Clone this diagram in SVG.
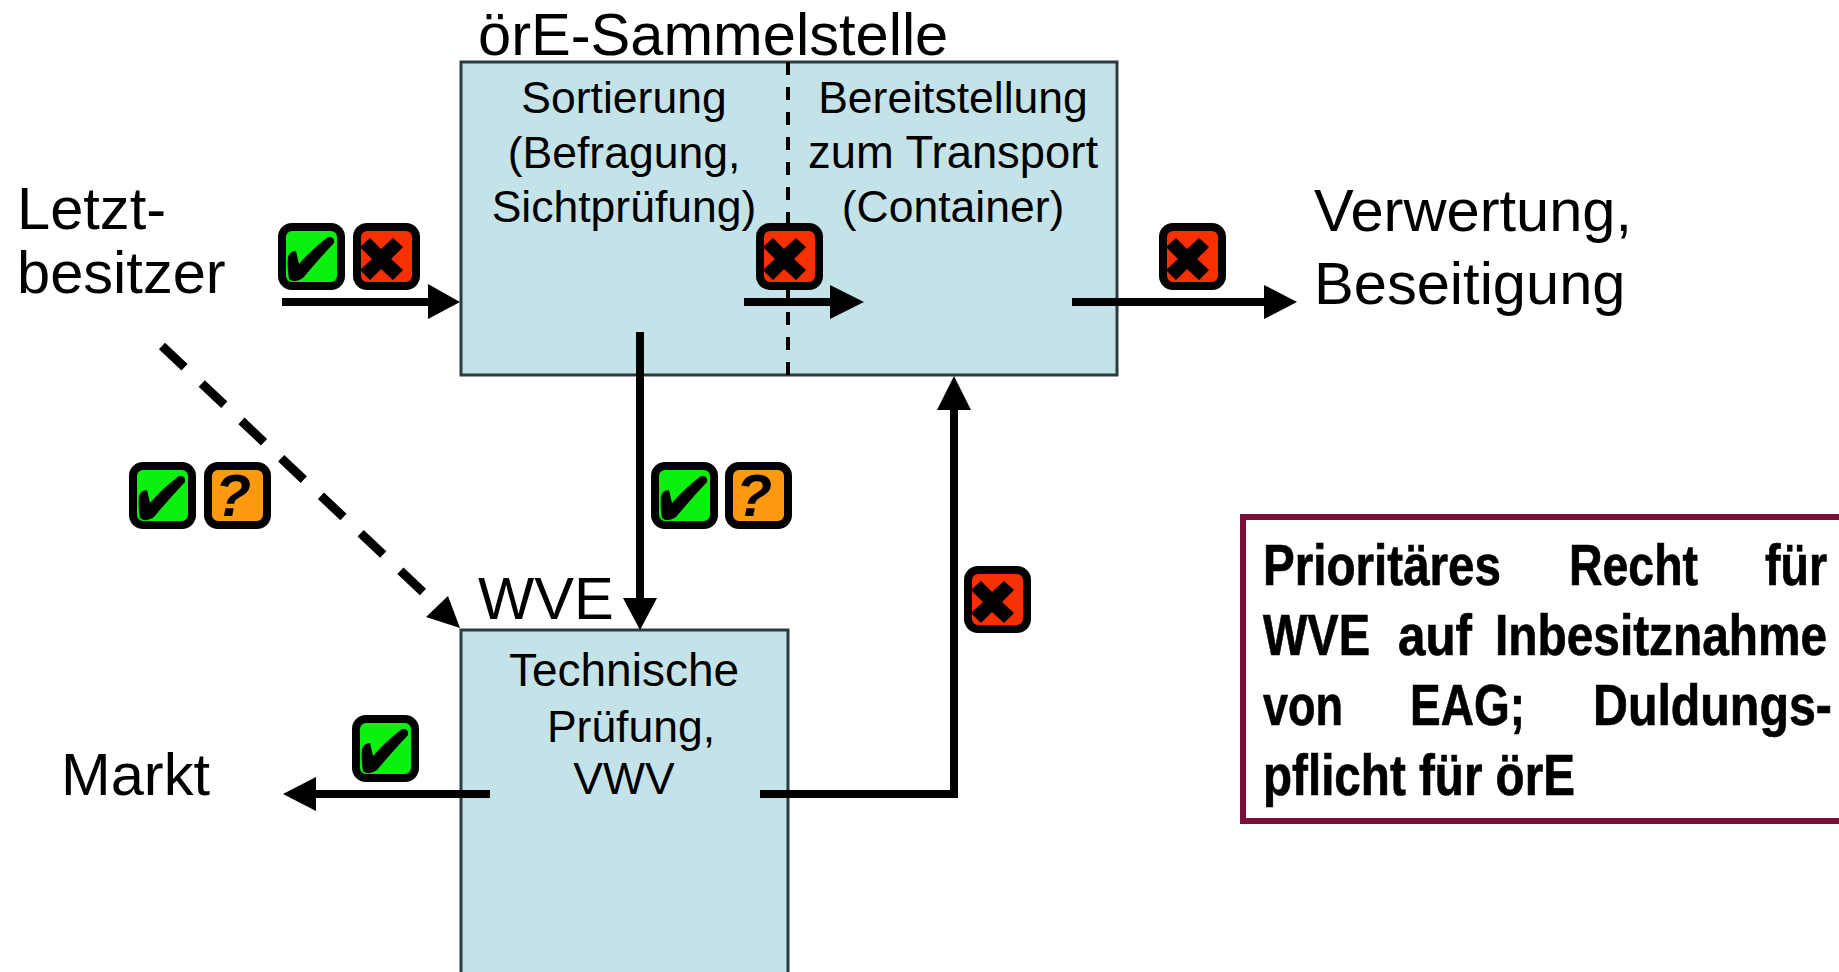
<svg xmlns="http://www.w3.org/2000/svg" width="1839" height="972" viewBox="0 0 1839 972">
<style>
text{font-family:"Liberation Sans",Arial,sans-serif;fill:#000}
.l{font-size:59.600px}.m{font-size:44.500px}
.c{text-anchor:middle}
.box{fill:#c3e3e9;stroke:#2c3c3c;stroke-width:3}
.ln{fill:none;stroke:#000;stroke-width:8}
.ib{stroke:#000;stroke-width:8}
.g{fill:#0cf010}.r{fill:#f83000}.o{fill:#ff9a10}
.n{font-weight:700;font-size:57px;stroke:#000;stroke-width:.7}
</style>
<defs>
<g id="ck"><rect class="ib g" x="4" y="4" width="59" height="59" rx="10"/><path d="M10 34 Q12 28 18 28 L21 41 Q34 26 50 14 Q57 13 56 20 Q40 37 25 55 Q17 61 11 56 Q9 44 10 34Z"/></g>
<g id="xx"><rect class="ib r" x="4" y="4" width="59" height="59" rx="10"/><path d="M17 15L28 26L40 15L50 24L38 36L50 47L40 57L28 46L17 57L7 47L19 36L7 24Z"/></g>
<g id="qq"><rect class="ib o" x="4" y="4" width="59" height="59" rx="10"/><text x="29" y="54" class="c" style="font-size:59px;font-weight:700;font-style:italic">?</text></g>
</defs>
<g id="box-sammelstelle"><rect class="box" x="461" y="62" width="656" height="313"/><path d="M788 62V375" fill="none" stroke="#000" stroke-width="4" stroke-dasharray="13 12"/>
<text class="l" x="478" y="55">örE-Sammelstelle</text>
<text class="m c" x="624" y="113">Sortierung</text><text class="m c" x="624" y="168">(Befragung,</text><text class="m c" x="624" y="222">Sichtprüfung)</text>
<text class="m c" x="953" y="113">Bereitstellung</text><text class="m c" x="953" y="168" style="font-size:45.400px">zum Transport</text><text class="m c" x="953" y="222">(Container)</text></g>
<g id="box-wve"><rect class="box" x="461" y="630" width="327" height="350"/>
<text class="l" x="478" y="619">WVE</text>
<text class="m c" x="624" y="686" style="font-size:46px">Technische</text><text class="m c" x="631" y="742">Prüfung,</text><text class="m c" x="624" y="794">VWV</text></g>
<g id="node-letzt"><text class="l" x="17" y="229">Letzt-</text><text class="l" x="17" y="293">besitzer</text></g>
<g id="node-verwertung"><text class="l" x="1314" y="231">Verwertung,</text><text class="l" x="1314" y="304">Beseitigung</text></g>
<g id="node-markt"><text class="l" x="61" y="795">Markt</text></g>
<g id="note"><rect x="1243" y="517" width="610" height="304" fill="#fff" stroke="#7b0f3a" stroke-width="6"/>
<text class="n" transform="translate(1263 585) scale(.835 1)">Prioritäres</text><text class="n" transform="translate(1569 585) scale(.815 1)">Recht</text><text class="n" transform="translate(1765 585) scale(.816 1)">für</text>
<text class="n" transform="translate(1263 655) scale(.824 1)">WVE</text><text class="n" transform="translate(1398 655) scale(.866 1)">auf</text><text class="n" transform="translate(1495 655) scale(.839 1)">Inbesitznahme</text>
<text class="n" transform="translate(1263 725) scale(.79 1)">von</text><text class="n" transform="translate(1410 725) scale(.807 1)">EAG;</text><text class="n" transform="translate(1593 725) scale(.848 1)">Duldungs-</text>
<text class="n" transform="translate(1263 795) scale(.835 1)">pflicht für örE</text></g>
<g id="connectors">
<path class="ln" d="M282 302H432"/><path d="M428 284L460 302L428 319Z"/>
<path class="ln" d="M744 302H834"/><path d="M830 285L864 302L830 319Z"/>
<path class="ln" d="M1072 302H1268"/><path d="M1264 285L1297 302L1264 319Z"/>
<path class="ln" d="M640 332V602"/><path d="M623 598L640 630L657 598Z"/>
<path class="ln" d="M760 794H954V405"/><path d="M937 410L954 376L971 410Z"/>
<path class="ln" d="M490 794H315"/><path d="M316 777L283 794L316 811Z"/>
<path d="M162 346L423 592" fill="none" stroke="#000" stroke-width="9" stroke-dasharray="31 23.600"/><path d="M460 628L426 617L448 596Z"/>
</g>
<g id="badges">
<use href="#ck" x="278" y="223"/><use href="#xx" x="353" y="223"/><use href="#xx" x="756" y="223"/><use href="#xx" x="1159" y="223"/>
<use href="#ck" x="129" y="462"/><use href="#qq" x="204" y="462"/><use href="#ck" x="651" y="462"/><use href="#qq" x="725" y="462"/>
<use href="#xx" x="964" y="566"/><use href="#ck" x="352" y="715"/>
</g>
</svg>
